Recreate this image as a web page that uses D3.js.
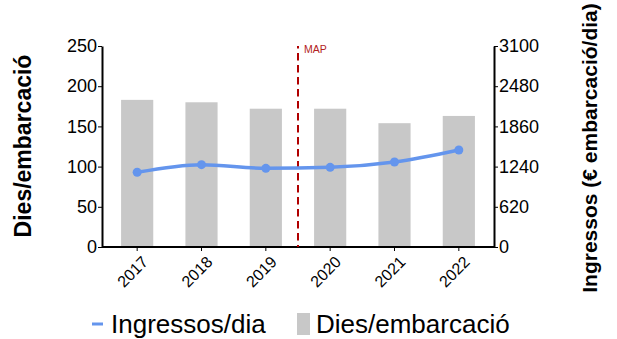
<!DOCTYPE html>
<html><head><meta charset="utf-8">
<script src="https://cdn.jsdelivr.net/npm/d3@7"></script>
<style>body{margin:0;background:#fff;}svg{display:block;font-family:"Liberation Sans",Arial,sans-serif;}</style>
</head><body><svg id="c" width="617" height="339"></svg>
<script>
const years = ["2017","2018","2019","2020","2021","2022"];
const diesEmbarcacio = [183, 180, 172, 172, 154, 163];
const ingressosDia = [1152, 1270, 1213, 1229, 1311, 1496];
const leftTicks = [0, 50, 100, 150, 200, 250];
const rightTicks = [0, 620, 1240, 1860, 2480, 3100];
const mapLabel = "MAP";

const svg = d3.select("#c");
const L = 102, R = 494, T = 46, B = 247;
const x = d3.scaleBand().domain(years).range([105, 491]).paddingInner(0.5).paddingOuter(0.25);
const yL = d3.scaleLinear().domain([0, 250]).range([B, T]);
const yR = d3.scaleLinear().domain([0, 3100]).range([B, T]);

// bars
svg.append("g").selectAll("rect").data(years).join("rect")
  .attr("x", d => x(d)).attr("width", x.bandwidth())
  .attr("y", (d,i) => yL(diesEmbarcacio[i]))
  .attr("height", (d,i) => B - yL(diesEmbarcacio[i]))
  .attr("fill", "#c8c8c8");

// axes
const axL = svg.append("g").attr("transform", `translate(${L},0)`)
  .call(d3.axisLeft(yL).tickValues(leftTicks).tickSize(4).tickSizeOuter(0));
const axR = svg.append("g").attr("transform", `translate(${R},0)`)
  .call(d3.axisRight(yR).tickValues(rightTicks).tickFormat(d3.format("d")).tickSize(4).tickSizeOuter(0));
const xAxis = d3.axisBottom(x).tickSize(4).tickSizeOuter(0);
const axX = svg.append("g").attr("transform", `translate(0,${B})`).call(xAxis);
axX.select(".domain").attr("d", `M${L},0H${R}`);
[axL, axR, axX].forEach(a => {
  a.select(".domain").attr("stroke", "#000").attr("stroke-width", 2);
  a.selectAll(".tick line").attr("stroke", "#000");
  a.selectAll("text").attr("fill", "#000").style("font-family", '"Liberation Sans",Arial,sans-serif');
});
axL.selectAll("text").attr("font-size", 18).attr("x", -5);
axR.selectAll("text").attr("font-size", 18).attr("x", 5);
axX.selectAll("text").attr("font-size", 16)
  .attr("text-anchor", "end").attr("x", 0).attr("y", 0).attr("dx", "0").attr("dy", "0")
  .attr("transform", "translate(12,16) rotate(-45)");

// MAP line
const mx = (x("2019") + x.bandwidth()/2 + x("2020") + x.bandwidth()/2) / 2;
svg.append("line").attr("x1", mx).attr("x2", mx).attr("y1", T).attr("y2", B)
  .attr("stroke", "#b00000").attr("stroke-width", 2)
  .attr("stroke-dasharray", "7.5,4.5").attr("stroke-dashoffset", 5);
svg.append("text").attr("x", mx + 6).attr("y", 53).attr("font-size", 10.5).attr("fill", "#b22222").text(mapLabel);

// line
const cx = d => x(d) + x.bandwidth()/2;
svg.append("path").datum(years)
  .attr("d", d3.line().x(cx).y((d,i) => yR(ingressosDia[i])).curve(d3.curveMonotoneX))
  .attr("fill", "none").attr("stroke", "#6495ed").attr("stroke-width", 3.5);
svg.append("g").selectAll("circle").data(years).join("circle")
  .attr("cx", cx).attr("cy", (d,i) => yR(ingressosDia[i])).attr("r", 4.5).attr("fill", "#6495ed");

// axis titles
svg.append("text").attr("transform", `translate(31,146) rotate(-90)`)
  .attr("text-anchor", "middle").attr("font-size", 23).attr("font-weight", "bold").text("Dies/embarcació");
svg.append("text").attr("transform", `translate(597,148) rotate(-90)`)
  .attr("text-anchor", "middle").attr("font-size", 21).attr("font-weight", "bold").text("Ingressos (€ embarcació/dia)");

// legend
svg.append("line").attr("x1", 92).attr("x2", 103).attr("y1", 324).attr("y2", 324).attr("stroke", "#6495ed").attr("stroke-width", 3);
svg.append("text").attr("x", 111).attr("y", 333).attr("font-size", 26).text("Ingressos/dia");
svg.append("rect").attr("x", 297).attr("y", 313).attr("width", 13).attr("height", 22).attr("fill", "#c8c8c8");
svg.append("text").attr("x", 316).attr("y", 333).attr("font-size", 26).text("Dies/embarcació");
</script></body></html>
